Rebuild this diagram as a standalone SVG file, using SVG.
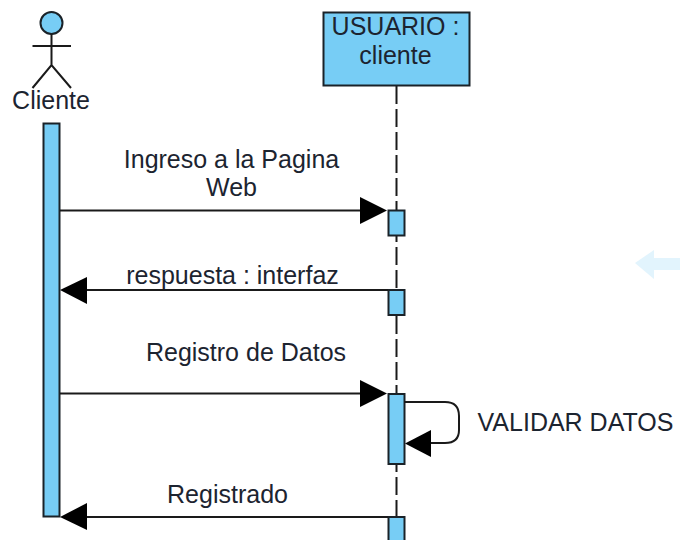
<svg xmlns="http://www.w3.org/2000/svg" width="680" height="540" viewBox="0 0 680 540">
<style>
text{font-family:"Liberation Sans",Arial,sans-serif;font-size:25px;fill:#1c2430;text-anchor:middle}
.box{fill:#77cdf5;stroke:#1a2228;stroke-width:2}
.ln{fill:none;stroke:#1a1a1a;stroke-width:2}
.hd{fill:#000;stroke:none}
</style>
<g id="faint-arrow"><path d="M635 263L654 250V258H680V270H654V279Z" fill="#e2f4fd"/></g>
<g id="lifeline"><path class="ln" d="M396.500 86V540" stroke-dasharray="18 5"/></g>
<g id="actor-cliente">
<circle class="box" cx="51.500" cy="23" r="11"/>
<path class="ln" d="M51.500 34V65M32.500 46H71M32.500 88L51.500 65L71 88"/>
<text x="51" y="109">Cliente</text>
</g>
<g id="usuario-cliente">
<rect class="box" x="323.500" y="12.500" width="146" height="73"/>
<text x="395.500" y="35">USUARIO :</text>
<text x="395.500" y="64">cliente</text>
</g>
<g id="activation-cliente"><rect class="box" x="43.500" y="123.500" width="16" height="393"/></g>
<g id="activation-1"><rect class="box" x="388.500" y="210.500" width="16" height="25"/></g>
<g id="activation-2"><rect class="box" x="388.500" y="290" width="16" height="25"/></g>
<g id="activation-3"><rect class="box" x="388.500" y="394" width="16" height="70"/></g>
<g id="activation-4"><rect class="box" x="388.500" y="517" width="16" height="30"/></g>
<g id="connectors">
<path class="ln" d="M60 210.500H362"/><path class="hd" d="M387 210.500L360 197V224Z"/>
<path class="ln" d="M388 290H85"/><path class="hd" d="M60 290L87 277V304Z"/>
<path class="ln" d="M60 393.500H362"/><path class="hd" d="M387 393.500L360 380V407Z"/>
<path class="ln" d="M404 402H445Q459 402 459 416V430Q459 443 445 443H430"/><path class="hd" d="M405 443.500L431 430V457Z"/>
<path class="ln" d="M388 517H85"/><path class="hd" d="M60 517L87 503V530Z"/>
</g>
<g id="labels">
<text x="231.500" y="168">Ingreso a la Pagina</text>
<text x="231.500" y="196">Web</text>
<text x="232.500" y="284">respuesta : interfaz</text>
<text x="246" y="361">Registro de Datos</text>
<text x="227.500" y="503">Registrado</text>
<text x="575.500" y="431">VALIDAR DATOS</text>
</g>
</svg>
